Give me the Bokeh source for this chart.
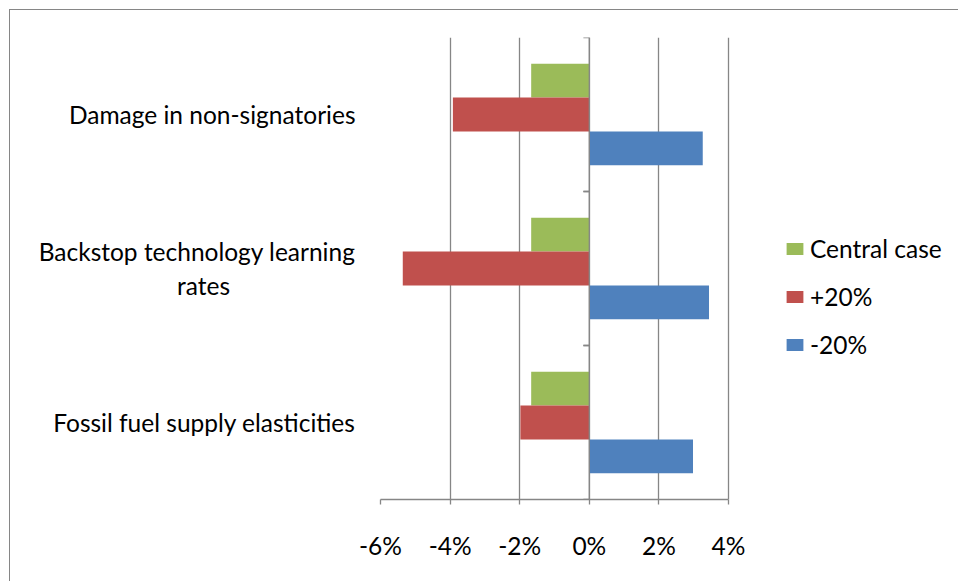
from bokeh.plotting import figure
from bokeh.models import (FactorRange, Range1d, FixedTicker, Span, Legend, LegendItem,
                          ColumnDataSource)
from bokeh.transform import dodge
from bokeh.embed import file_html
from bokeh.resources import INLINE

# ---- data ----
categories = ["Damage in non-signatories",
              "Backstop technology learning\nrates" + "\u00a0" * 20,
              "Fossil fuel supply elasticities"]
central_case = [-1.67, -1.67, -1.67]
plus_20 = [-3.92, -5.36, -1.98]
minus_20 = [3.26, 3.44, 2.98]
x_ticks = [-6, -4, -2, 0, 2, 4]
x_tick_labels = ["-6%", "-4%", "-2%", "0%", "2%", "4%"]
series_names = ["Central case", "+20%", "-20%"]
series_colors = ["#9BBB59", "#C0504D", "#4F81BD"]

FONT = "Lato"
FS = "24.5px"
GRAY = "#868686"

# layout (pixels)
W, H = 949, 572          # figure content size (page minus the 9px margin and 1px border)
LEFT, TOP, BOTTOM, RIGHT = 370, 27, 83, 10
AXIS_W = 348             # width of the -6%..4% axis span
frame_w = W - LEFT - RIGHT
x_end = x_ticks[0] + (x_ticks[-1] - x_ticks[0]) * frame_w / AXIS_W

src = ColumnDataSource(dict(cat=categories, c=central_case, p=plus_20, m=minus_20))

p = figure(width=W, height=H, output_backend="svg", toolbar_location=None,
           y_range=FactorRange(factors=list(reversed(categories))),
           x_range=Range1d(x_ticks[0], x_end),
           min_border_left=LEFT, min_border_right=RIGHT, min_border_top=TOP, min_border_bottom=BOTTOM,
           margin=(9, 0, 0, 9),
           styles={"border-left": "1px solid #868686", "border-top": "1px solid #868686"})
p.outline_line_color = None
p.background_fill_color = "white"
p.border_fill_color = "white"

bar_h = 0.22
offsets = [bar_h, 0.0, -bar_h]
fields = ["c", "p", "m"]
renderers = []
for f, off, col in zip(fields, offsets, series_colors):
    r = p.hbar(y=dodge("cat", off, range=p.y_range), right=f, left=0, height=bar_h,
               source=src, fill_color=col, line_color=None)
    renderers.append(r)

# grid
p.ygrid.grid_line_color = None
p.xgrid.ticker = FixedTicker(ticks=x_ticks)
p.xgrid.grid_line_color = GRAY
p.xgrid.grid_line_width = 1.3

# zero axis
p.add_layout(Span(location=0, dimension="height", line_color=GRAY, line_width=1.3))
# category boundary ticks on the zero axis
bsrc = ColumnDataSource(dict(cat=categories))
p.segment(x0=-0.17, x1=0, y0=dodge("cat", 0.5, range=p.y_range),
          y1=dodge("cat", 0.5, range=p.y_range), source=bsrc, line_color=GRAY, line_width=1.3)
p.segment(x0=-0.17, x1=0, y0=dodge("cat", -0.5, range=p.y_range),
          y1=dodge("cat", -0.5, range=p.y_range), source=bsrc, line_color=GRAY, line_width=1.3)

# x axis
xa = p.xaxis[0]
xa.ticker = FixedTicker(ticks=x_ticks)
xa.bounds = (x_ticks[0], x_ticks[-1])
xa.major_label_overrides = {t: l for t, l in zip(x_ticks, x_tick_labels)}
xa.axis_line_color = GRAY
xa.axis_line_width = 1.3
xa.major_tick_line_color = GRAY
xa.major_tick_line_width = 1.3
xa.major_tick_out = 5
xa.major_tick_in = 0
xa.minor_tick_line_color = None
xa.major_label_text_font = FONT
xa.major_label_text_font_size = FS
xa.major_label_text_color = "black"
xa.major_label_standoff = 26

# y axis (category labels)
ya = p.yaxis[0]
ya.axis_line_color = None
ya.major_tick_line_color = None
ya.minor_tick_line_color = None
ya.major_label_text_font = FONT
ya.major_label_text_font_size = FS
ya.major_label_text_color = "black"
ya.major_label_standoff = 19

# legend
legend = Legend(items=[LegendItem(label=n, renderers=[r]) for n, r in zip(series_names, renderers)],
                location=(404, 140), orientation="vertical",
                glyph_width=21, glyph_height=15, label_height=15, spacing=19,
                label_standoff=5, padding=0, margin=0,
                border_line_color=None, background_fill_color=None,
                label_text_font=FONT, label_text_font_size=FS, label_text_color="black")
p.add_layout(legend)

open("out.html", "w").write(file_html(p, INLINE))
